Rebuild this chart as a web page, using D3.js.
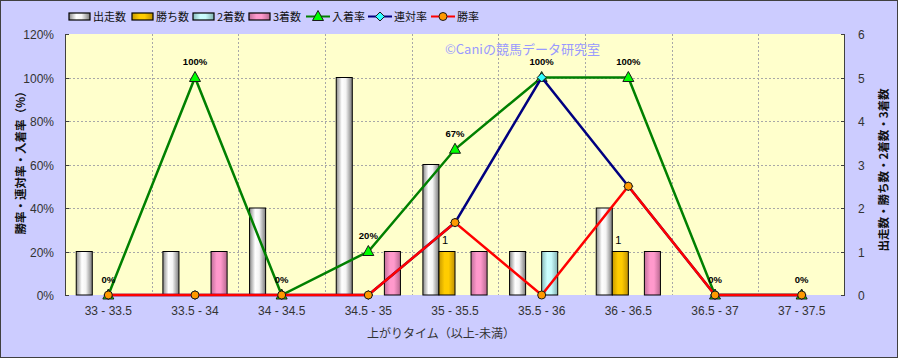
<!DOCTYPE html>
<html><head><meta charset="utf-8">
<script src="https://cdn.jsdelivr.net/npm/d3@7"></script>
<style>body{margin:0;background:#fff}svg{display:block}</style>
</head><body>
<script>
const categories = ["33 - 33.5","33.5 - 34","34 - 34.5","34.5 - 35","35 - 35.5","35.5 - 36","36 - 36.5","36.5 - 37","37 - 37.5"];
const starts   = [1,1,2,5,3,1,2,0,0];   // 出走数
const wins     = [0,0,0,0,1,0,1,0,0];   // 勝ち数
const seconds  = [0,0,0,0,0,1,0,0,0];   // 2着数
const thirds   = [0,1,0,1,1,0,1,0,0];   // 3着数
const placeRate = [0,100,0,20,67,100,100,0,0];      // 入着率
const rentaiRate = [0,0,0,0,33.3,100,50,0,0];       // 連対率
const winRate = [0,0,0,0,33.3,0,50,0,0];            // 勝率
const leftTicks = [0,20,40,60,80,100,120];
const rightTicks = [0,1,2,3,4,5,6];

const W=898,H=358;
const L=65,R=845,T=34,B=295;
const svg=d3.select("body").append("svg").attr("width",W).attr("height",H);
const defs=svg.append("defs");
const jp='"Noto Sans CJK JP","Noto Sans",sans-serif';

svg.append("rect").attr("x",0.5).attr("y",0.5).attr("width",W-1).attr("height",H-1).attr("fill","#ccccff").attr("stroke","#404040");
svg.append("rect").attr("x",L).attr("y",T).attr("width",R-L).attr("height",B-T).attr("fill","#ffffcc");

const barSeries=[
  {name:"出走数",vals:starts,c:["#8a8a8a","#ffffff","#f4f4f4","#7a7a7a"]},
  {name:"勝ち数",vals:wins,c:["#c89a00","#ffcc00","#ffcc00","#c09000"]},
  {name:"2着数",vals:seconds,c:["#88bbbb","#ccffff","#c8fcfc","#80b0b0"]},
  {name:"3着数",vals:thirds,c:["#c06f99","#ff99cc","#ff99cc","#b86890"]}
];
barSeries.forEach((s,i)=>{
  const g=defs.append("linearGradient").attr("id","g"+i).attr("x1","0").attr("x2","1").attr("y1","0").attr("y2","0");
  [[0,s.c[0]],[0.35,s.c[1]],[0.6,s.c[2]],[1,s.c[3]]].forEach(([o,c])=>g.append("stop").attr("offset",o).attr("stop-color",c));
});

const x=d3.scaleBand().domain(categories).range([L,R]).padding(0);
const x1=d3.scaleBand().domain(barSeries.map(s=>s.name)).range([0,x.bandwidth()]).paddingInner(0).paddingOuter(0.7);
const yL=d3.scaleLinear().domain([0,120]).range([B,T]);
const yR=d3.scaleLinear().domain([0,6]).range([B,T]);

// gridlines
const grid=svg.append("g").attr("stroke","#a8a8a8").attr("stroke-dasharray","2,2").attr("stroke-width",1);
leftTicks.slice(1,-1).forEach(t=>grid.append("line").attr("x1",L).attr("x2",R).attr("y1",Math.round(yL(t))+0.5).attr("y2",Math.round(yL(t))+0.5));
categories.slice(1).forEach(c=>grid.append("line").attr("x1",Math.round(x(c))+0.5).attr("x2",Math.round(x(c))+0.5).attr("y1",T).attr("y2",B));

// watermark
svg.append("text").attr("x",445).attr("y",53.5).attr("font-family",jp).attr("font-size",13).attr("fill","#9999ff").text("©Caniの競馬データ研究室");

// bars
barSeries.forEach((s,i)=>{
  svg.append("g").selectAll("rect").data(s.vals.map((v,j)=>({v,c:categories[j]})).filter(d=>d.v>0)).join("rect")
    .attr("x",d=>x(d.c)+x1(s.name)).attr("width",x1.bandwidth())
    .attr("y",d=>yR(d.v)).attr("height",d=>yR(0)-yR(d.v))
    .attr("fill","url(#g"+i+")").attr("stroke","#000").attr("stroke-width",1);
});
// labels on 勝ち数
svg.append("g").selectAll("text").data(wins.map((v,j)=>({v,c:categories[j]})).filter(d=>d.v>0)).join("text")
  .attr("x",d=>x(d.c)+x1("勝ち数")+x1.bandwidth()/2-2).attr("y",d=>yR(d.v)-8)
  .attr("text-anchor","middle").attr("font-family","Arial,sans-serif").attr("font-size",11).attr("fill","#000").text(d=>d.v);

// axes
const axisCol="#404040";
svg.append("line").attr("x1",L+0.5).attr("x2",L+0.5).attr("y1",T).attr("y2",B).attr("stroke",axisCol);
svg.append("line").attr("x1",R-0.5).attr("x2",R-0.5).attr("y1",T).attr("y2",B).attr("stroke",axisCol);
leftTicks.forEach(t=>{
  const y=Math.round(yL(t))+0.5;
  svg.append("line").attr("x1",L).attr("x2",L+4).attr("y1",y).attr("y2",y).attr("stroke",axisCol);
  svg.append("text").attr("x",54).attr("y",y+4.5).attr("text-anchor","end").attr("font-family","Arial,sans-serif").attr("font-size",12).attr("fill","#333").text(t+"%");
});
rightTicks.forEach(t=>{
  const y=Math.round(yR(t))+0.5;
  svg.append("line").attr("x1",R-4).attr("x2",R).attr("y1",y).attr("y2",y).attr("stroke",axisCol);
  svg.append("text").attr("x",858).attr("y",y+4.5).attr("text-anchor","start").attr("font-family","Arial,sans-serif").attr("font-size",12).attr("fill","#333").text(t);
});
categories.forEach(c=>{
  svg.append("text").attr("x",x(c)+x.bandwidth()/2).attr("y",315).attr("text-anchor","middle").attr("font-family","Arial,sans-serif").attr("font-size",12).attr("fill","#333").text(c);
});
svg.append("text").attr("x",441).attr("y",338).attr("text-anchor","middle").attr("font-family",jp).attr("font-size",12).attr("fill","#333").text("上がりタイム（以上-未満）");
svg.append("text").attr("transform","translate(25,160) rotate(-90)").attr("text-anchor","middle").attr("font-family",jp).attr("font-size",11.5).attr("font-weight","bold").attr("fill","#111").text("勝率・連対率・入着率（%）");
svg.append("text").attr("transform","translate(888,170) rotate(-90)").attr("text-anchor","middle").attr("font-family",jp).attr("font-size",11.5).attr("font-weight","bold").attr("fill","#111").text("出走数・勝ち数・2着数・3着数");

// lines
const cx=c=>x(c)+x.bandwidth()/2;
const lineSeries=[
  {name:"入着率",vals:placeRate,col:"#008000",mk:"tri",mfill:"#00ff00"},
  {name:"連対率",vals:rentaiRate,col:"#000080",mk:"dia",mfill:"#33ffff"},
  {name:"勝率",vals:winRate,col:"#ff0000",mk:"circ",mfill:"#ff9900"}
];
function marker(g,type,px,py,fill){
  if(type==="tri") g.append("path").attr("d",`M${px},${py-6}L${px+5.5},${py+4}L${px-5.5},${py+4}Z`).attr("fill",fill).attr("stroke","#1a1a1a").attr("stroke-width",1);
  else if(type==="dia") g.append("path").attr("d",`M${px},${py-4.5}L${px+4.5},${py}L${px},${py+4.5}L${px-4.5},${py}Z`).attr("fill",fill).attr("stroke","#1a1a1a").attr("stroke-width",1);
  else g.append("circle").attr("cx",px).attr("cy",py).attr("r",4).attr("fill",fill).attr("stroke","#1a1a1a").attr("stroke-width",1);
}
lineSeries.forEach(s=>{
  const g=svg.append("g");
  const line=d3.line().x((d,j)=>cx(categories[j])).y(d=>yL(d));
  g.append("path").attr("d",line(s.vals)).attr("fill","none").attr("stroke",s.col).attr("stroke-width",2.5);
  s.vals.forEach((v,j)=>marker(g,s.mk,cx(categories[j]),yL(v),s.mfill));
});
// data labels for 入着率
svg.append("g").selectAll("text").data(placeRate.map((v,j)=>({v,c:categories[j]}))).join("text")
  .attr("x",d=>cx(d.c)).attr("y",d=>yL(d.v)-12.5).attr("text-anchor","middle")
  .attr("font-family","Arial,sans-serif").attr("font-size",9.5).attr("font-weight","bold").attr("fill","#000").text(d=>d.v+"%");

// legend
const lg=svg.append("g").attr("font-family",jp).attr("font-size",11).attr("fill","#111");
const barLeg=[69,132,193,249];
barSeries.forEach((s,i)=>{
  lg.append("rect").attr("x",barLeg[i]).attr("y",13).attr("width",21).attr("height",7).attr("fill","url(#g"+i+")").attr("stroke","#000").attr("stroke-width",1.2);
  lg.append("text").attr("x",barLeg[i]+24).attr("y",20.5).text(s.name);
});
const lineLeg=[306,368,431];
lineSeries.forEach((s,i)=>{
  lg.append("line").attr("x1",lineLeg[i]).attr("x2",lineLeg[i]+24).attr("y1",16.5).attr("y2",16.5).attr("stroke",s.col).attr("stroke-width",2);
  marker(lg,s.mk,lineLeg[i]+12,16.5,s.mfill);
  lg.append("text").attr("x",lineLeg[i]+26).attr("y",20.5).text(s.name);
});
</script>
</body></html>
